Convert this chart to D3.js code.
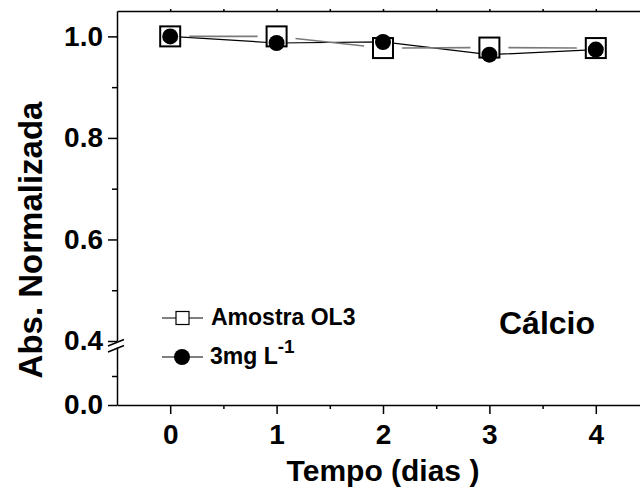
<!DOCTYPE html>
<html>
<head>
<meta charset="utf-8">
<script src="https://cdn.jsdelivr.net/npm/d3@7"></script>
<style>
  body { margin: 0; background: #fff; }
  svg text { font-family: "Liberation Sans", Arial, sans-serif; font-weight: bold; fill: #000; }
  .axis path, .axis line { stroke: #000; stroke-width: 1.5; }
</style>
</head>
<body>
<svg id="chart" width="640" height="489"></svg>
<script>
// Absorbancia normalizada - Calcio
const dias = [0, 1, 2, 3, 4];
const amostraOL3 = [1.000, 1.000, 0.977, 0.978, 0.977];
const padrao3mg = [1.000, 0.987, 0.989, 0.964, 0.974];

const xTicks = [0, 1, 2, 3, 4];
const xMinorTicks = [0.5, 1.5, 2.5, 3.5, 4.5];
const yTicksUpper = [0.4, 0.6, 0.8, 1.0];
const yMinorUpper = [0.5, 0.7, 0.9];
const yTicksLower = [0.0];
const yMinorLower = [0.2];

(function() {
    'use strict';

    const svg = d3.select('#chart');
    const left = 117, top = 11, bottom = 405;

    const x = d3.scaleLinear().domain([-0.5, 4.5]).range([left, 649]);
    // broken y axis: two segments
    const yUp = d3.scaleLinear().domain([0.4, 1.05]).range([341, top]);
    const yLow = d3.scaleLinear().domain([0, 0.4]).range([bottom, 347]);
    const y = v => v >= 0.4 ? yUp(v) : yLow(v);

    const fmt = d3.format('.1f');

    // bottom axis
    svg.append('g').attr('class', 'axis')
        .attr('transform', `translate(0,${bottom})`)
        .call(d3.axisBottom(x).tickValues(xTicks).tickSize(9).tickSizeOuter(0).tickPadding(10).tickFormat(d3.format('d')))
        .call(g => g.selectAll('text').style('font-size', '28px'));
    svg.append('g').attr('class', 'axis')
        .attr('transform', `translate(0,${bottom})`)
        .call(d3.axisBottom(x).tickValues(xMinorTicks).tickSize(4).tickSizeOuter(0).tickFormat(''))
        .call(g => g.select('.domain').remove());

    // top axis
    svg.append('g').attr('class', 'axis')
        .attr('transform', `translate(0,${top})`)
        .call(d3.axisTop(x).tickValues(xTicks.concat(xMinorTicks)).tickSize(2).tickSizeOuter(0).tickFormat(''));

    // left axis, upper part
    svg.append('g').attr('class', 'axis')
        .attr('transform', `translate(${left},0)`)
        .call(d3.axisLeft(yUp).tickValues(yTicksUpper).tickSize(9).tickSizeOuter(0).tickPadding(5).tickFormat(fmt))
        .call(g => g.selectAll('text').style('font-size', '28px'));
    svg.append('g').attr('class', 'axis')
        .attr('transform', `translate(${left},0)`)
        .call(d3.axisLeft(yUp).tickValues(yMinorUpper).tickSize(5).tickFormat(''))
        .call(g => g.select('.domain').remove());

    // left axis, lower part
    svg.append('g').attr('class', 'axis')
        .attr('transform', `translate(${left},0)`)
        .call(d3.axisLeft(yLow).tickValues(yTicksLower).tickSize(9).tickSizeOuter(0).tickPadding(5).tickFormat(fmt))
        .call(g => g.selectAll('text').style('font-size', '28px'));
    svg.append('g').attr('class', 'axis')
        .attr('transform', `translate(${left},0)`)
        .call(d3.axisLeft(yLow).tickValues(yMinorLower).tickSize(5).tickFormat(''))
        .call(g => g.select('.domain').remove());

    // break marks
    [0, 6].forEach(off => {
        svg.append('line')
            .attr('x1', 108).attr('y1', 346 + off)
            .attr('x2', 124).attr('y2', 339.5 + off)
            .attr('stroke', '#000').attr('stroke-width', 1.5);
    });

    // axis titles
    svg.append('text')
        .attr('x', (left + 649) / 2).attr('y', 481)
        .attr('text-anchor', 'middle')
        .style('font-size', '30px')
        .text('Tempo (dias )');

    svg.append('text')
        .attr('transform', 'translate(42,240) rotate(-90)')
        .attr('text-anchor', 'middle')
        .style('font-size', '33px')
        .text('Abs. Normalizada');

    const pts = dias.map((d, i) => ({ x: x(d), ya: y(amostraOL3[i]), yp: y(padrao3mg[i]) }));

    // 3mg line (black, connects centres)
    svg.append('path')
        .attr('d', d3.line().x(d => d.x).y(d => d.yp)(pts))
        .attr('fill', 'none').attr('stroke', '#000').attr('stroke-width', 1.2);

    // Amostra line: gray segments with gaps near the markers
    const gap = 19;
    for (let i = 0; i < pts.length - 1; i++) {
        const a = pts[i], b = pts[i + 1];
        const dx = b.x - a.x, dy = b.ya - a.ya;
        const len = Math.hypot(dx, dy);
        const ux = dx / len, uy = dy / len;
        svg.append('line')
            .attr('x1', a.x + ux * gap).attr('y1', a.ya + uy * gap)
            .attr('x2', b.x - ux * gap).attr('y2', b.ya - uy * gap)
            .attr('stroke', '#7a7a7a').attr('stroke-width', 1.6);
    }

    // squares
    const sq = 20;
    svg.selectAll('.sq').data(pts).enter().append('rect')
        .attr('x', d => d.x - sq / 2).attr('y', d => d.ya - sq / 2)
        .attr('width', sq).attr('height', sq)
        .attr('fill', '#fff').attr('stroke', '#000').attr('stroke-width', 2);

    // circles
    svg.selectAll('.pt').data(pts).enter().append('circle')
        .attr('cx', d => d.x).attr('cy', d => d.yp).attr('r', 8)
        .attr('fill', '#000');

    // legend
    const lg = svg.append('g');
    lg.append('line').attr('x1', 162).attr('x2', 203).attr('y1', 318).attr('y2', 318)
        .attr('stroke', '#000').attr('stroke-width', 1);
    lg.append('rect').attr('x', 176).attr('y', 311.5).attr('width', 13).attr('height', 13)
        .attr('fill', '#fff').attr('stroke', '#000').attr('stroke-width', 1.2);
    lg.append('text').attr('x', 211).attr('y', 325).style('font-size', '23px').text('Amostra OL3');

    lg.append('line').attr('x1', 162).attr('x2', 203).attr('y1', 357).attr('y2', 357)
        .attr('stroke', '#000').attr('stroke-width', 1);
    lg.append('circle').attr('cx', 182).attr('cy', 357).attr('r', 8).attr('fill', '#000');
    const t2 = lg.append('text').attr('x', 210).attr('y', 364).style('font-size', '23px');
    t2.append('tspan').text('3mg L');
    t2.append('tspan').attr('dy', -11).style('font-size', '19px').text('-1');

    svg.append('text')
        .attr('x', 499).attr('y', 334)
        .style('font-size', '32px')
        .text('Cálcio');
})();
</script>
</body>
</html>
